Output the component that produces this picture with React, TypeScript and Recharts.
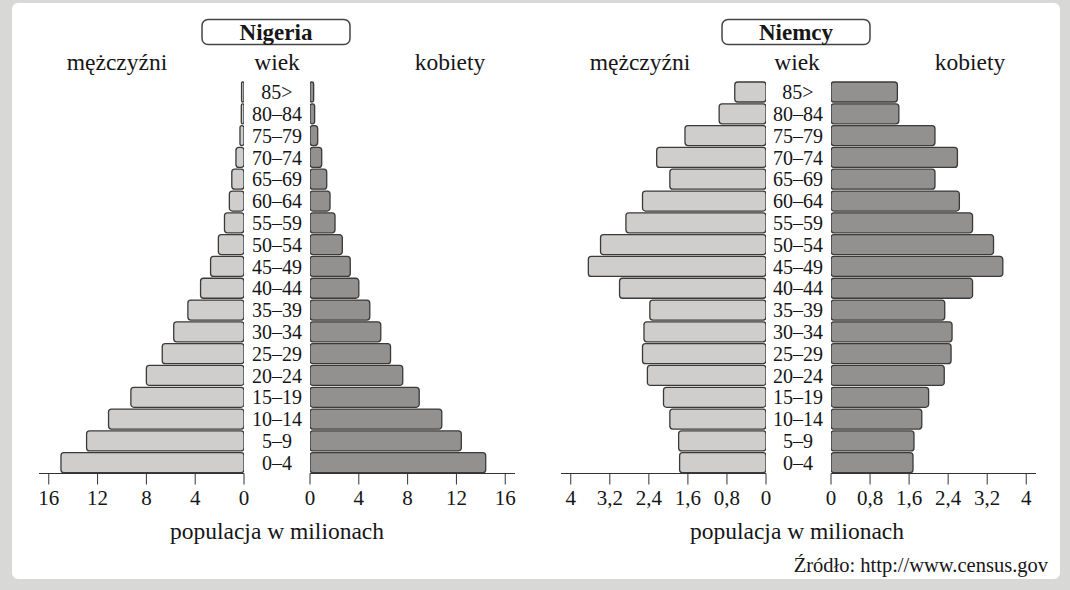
import { BarChart, Bar, XAxis, YAxis } from 'recharts'

const FONT = "'Liberation Serif', 'Times New Roman', serif"

const ages = ['85>', '80–84', '75–79', '70–74', '65–69', '60–64', '55–59', '50–54', '45–49', '40–44', '35–39', '30–34', '25–29', '20–24', '15–19', '10–14', '5–9', '0–4']

// population in millions, oldest group first
const nigeriaMen = [0.2, 0.22, 0.33, 0.66, 1.0, 1.2, 1.6, 2.1, 2.74, 3.56, 4.6, 5.76, 6.7, 8.0, 9.27, 11.1, 12.9, 15.0]
const nigeriaWomen = [0.3, 0.38, 0.63, 0.96, 1.37, 1.64, 2.05, 2.65, 3.3, 4.0, 4.9, 5.8, 6.6, 7.6, 8.95, 10.8, 12.4, 14.4]
const germanyMen = [0.64, 0.96, 1.66, 2.24, 1.97, 2.53, 2.87, 3.39, 3.64, 3.0, 2.38, 2.5, 2.53, 2.43, 2.1, 1.97, 1.79, 1.77]
const germanyWomen = [1.36, 1.39, 2.13, 2.59, 2.13, 2.63, 2.9, 3.33, 3.52, 2.9, 2.33, 2.48, 2.46, 2.32, 2.0, 1.86, 1.7, 1.68]

const nigeriaTicks = [0, 4, 8, 12, 16]
const germanyTicks = [0, 0.8, 1.6, 2.4, 3.2, 4]

const MEN_FILL = '#d0cecd'
const WOMEN_FILL = '#939190'
const STROKE = '#3a3a3a'
const TEXT = '#161616'

const H = 590
const PLOT_TOP = 81
const AXIS_H = 30
const PLOT_BOTTOM = 473.5
const PLOT_W = 205
const GAP = 66

const rows = (vals: number[]) => ages.map((age, i) => ({ age, v: vals[i] }))
const comma = (v: number) => String(v).replace('.', ',')

function AgeTick(props: any) {
  const { x, y, payload } = props
  return (
    <text x={x - GAP / 2} y={y} dy="0.36em" textAnchor="middle" fontSize={20} fontFamily={FONT} fill={TEXT}>
      {payload.value}
    </text>
  )
}

function Half({ vals, max, ticks, fmt, left, women }: { vals: number[]; max: number; ticks: number[]; fmt: (v: number) => string; left: number; women?: boolean }) {
  const width = women ? GAP + PLOT_W + 20 : PLOT_W + 40
  return (
    <div style={{ position: 'absolute', left, top: 0 }}>
      <BarChart
        width={width}
        height={H}
        layout="vertical"
        data={rows(vals)}
        margin={{ top: PLOT_TOP, right: 20, bottom: H - PLOT_BOTTOM - AXIS_H, left: women ? 0 : 20 }}
        barCategoryGap={1}
      >
        <XAxis
          type="number"
          domain={[0, max]}
          reversed={!women}
          ticks={ticks}
          interval={0}
          allowDataOverflow
          height={AXIS_H}
          tickSize={11}
          tickMargin={6}
          tickFormatter={fmt}
          stroke="#333"
          tick={{ fontSize: 21, fill: TEXT, fontFamily: FONT }}
        />
        {women ? (
          <YAxis
            type="category"
            dataKey="age"
            width={GAP}
            interval={0}
            tickSize={0}
            tickMargin={0}
            axisLine={false}
            tickLine={false}
            tick={AgeTick}
          />
        ) : (
          <YAxis type="category" dataKey="age" hide />
        )}
        <Bar
          dataKey="v"
          fill={women ? WOMEN_FILL : MEN_FILL}
          stroke={STROKE}
          strokeWidth={1.3}
          radius={3}
          isAnimationActive={false}
        />
      </BarChart>
    </div>
  )
}

function Labels({ title, boxX, mid, menX, womenX }: { title: string; boxX: number; mid: number; menX: number; womenX: number }) {
  const t = { fontFamily: FONT, fill: TEXT, textAnchor: 'middle' as const }
  return (
    <g>
      <rect x={boxX} y={19.5} width={148} height={25} rx={6} fill="#fff" stroke="#444" strokeWidth={1.5} />
      <text x={boxX + 74} y={39.5} fontSize={23} fontWeight="bold" {...t}>{title}</text>
      <text x={menX} y={70} fontSize={23.5} {...t}>mężczyźni</text>
      <text x={mid} y={70} fontSize={23.5} {...t}>wiek</text>
      <text x={womenX} y={70} fontSize={23.5} {...t}>kobiety</text>
      <text x={mid} y={539} fontSize={23.5} {...t}>populacja w milionach</text>
    </g>
  )
}

export default function App() {
  return (
    <div style={{ position: 'absolute', left: 0, top: 0, width: 1070, height: H, background: '#d8d8d6', overflow: 'hidden' }}>
      <div style={{ position: 'absolute', left: 12, top: 3, width: 1048, height: 576, background: '#fff', borderRadius: 6 }} />
      <Half vals={nigeriaMen} max={16.8} ticks={nigeriaTicks} fmt={comma} left={19} />
      <Half vals={nigeriaWomen} max={16.8} ticks={nigeriaTicks} fmt={comma} left={244} women />
      <Half vals={germanyMen} max={4.2} ticks={germanyTicks} fmt={comma} left={541} />
      <Half vals={germanyWomen} max={4.2} ticks={germanyTicks} fmt={comma} left={765} women />
      <svg width={1070} height={H} style={{ position: 'absolute', left: 0, top: 0, pointerEvents: 'none' }}>
        <Labels title="Nigeria" boxX={202} mid={277} menX={117} womenX={450} />
        <Labels title="Niemcy" boxX={722} mid={797} menX={640} womenX={970} />
        <text x={1048} y={572} fontSize={20.5} fontFamily={FONT} fill={TEXT} textAnchor="end">Źródło: http://www.census.gov</text>
      </svg>
    </div>
  )
}
